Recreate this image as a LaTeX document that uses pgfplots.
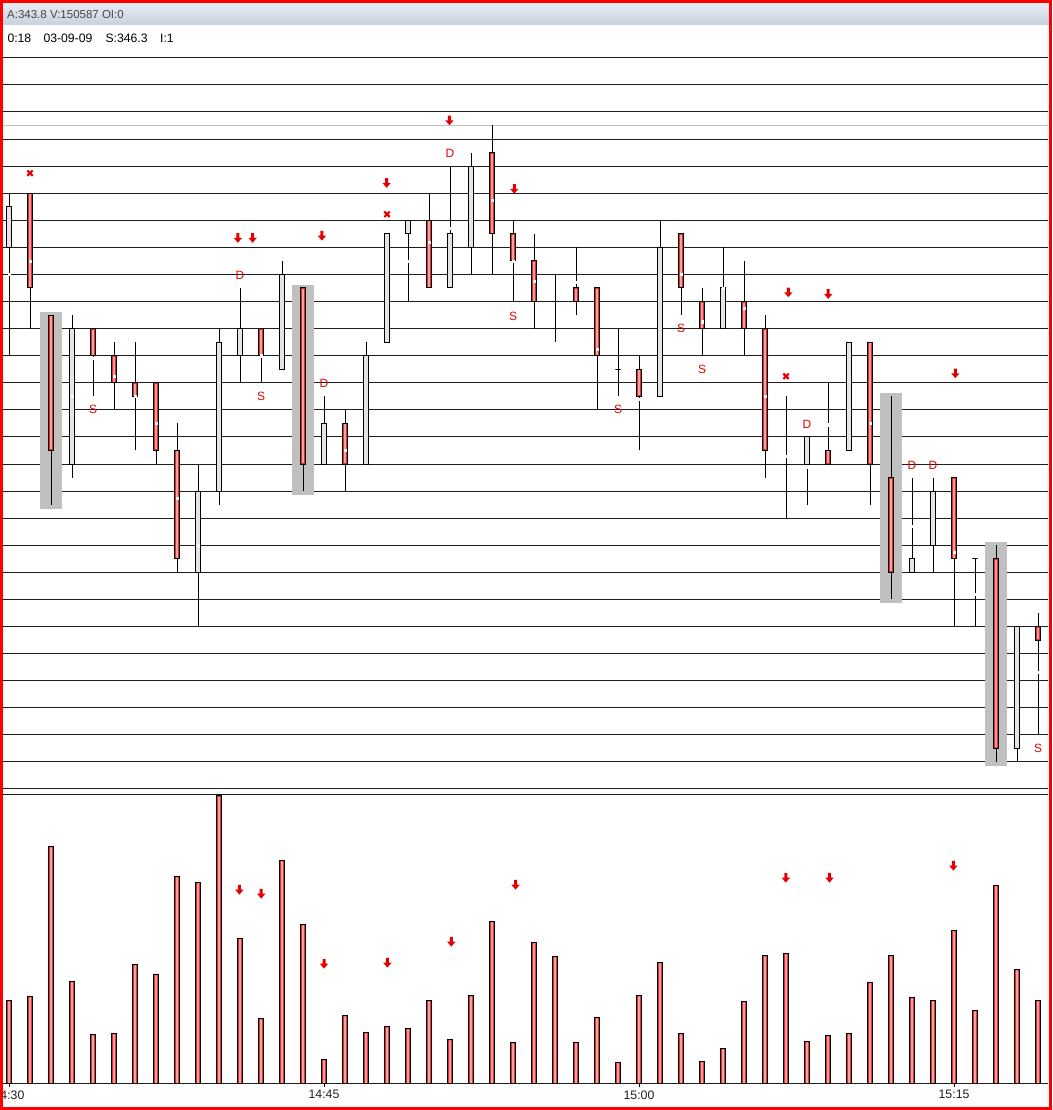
\documentclass[border=0pt]{standalone}
\usepackage{fontspec}
\setmainfont{Liberation Sans}
\usepackage{pgfplots}
\usepackage{pgfplotstable}
\pgfplotsset{compat=1.18}

\definecolor{bodyred}{RGB}{222,44,44}
\definecolor{bodypink}{RGB}{246,160,160}
\definecolor{bodywhite}{RGB}{228,228,228}
\definecolor{hl}{RGB}{192,192,192}
\definecolor{gridc}{RGB}{30,30,30}
\definecolor{mk}{RGB}{228,0,0}
\definecolor{hdrtop}{RGB}{236,240,245}
\definecolor{hdrbot}{RGB}{198,209,221}
\definecolor{hdrtext}{RGB}{70,70,70}

\pgfdeclareplotmark{darrow}{%
  \pgfpathmoveto{\pgfpoint{-1.5pt}{5pt}}%
  \pgfpathlineto{\pgfpoint{1.5pt}{5pt}}%
  \pgfpathlineto{\pgfpoint{1.5pt}{0.3pt}}%
  \pgfpathlineto{\pgfpoint{4.2pt}{0.3pt}}%
  \pgfpathlineto{\pgfpoint{0pt}{-4.6pt}}%
  \pgfpathlineto{\pgfpoint{-4.2pt}{0.3pt}}%
  \pgfpathlineto{\pgfpoint{-1.5pt}{0.3pt}}%
  \pgfpathclose\pgfusepathqfill}

% i open high low close avg-dot  (price levels, 1 level = 0.2)
\pgfplotstableread{
i o h l c d
0 19 21 15 20.5 18
1 21 21 16 17.5 18.5
2 16.5 16.5 9.5 11.5 nan
3 11 16.5 10.5 16 13.5
4 16 16 13.5 15 14.9
5 15 15.5 13 14 14.25
6 14 15.5 11.5 13.5 13.5
7 14 14 11 11.5 12.5
8 11.5 12.5 7 7.5 9.75
9 7 11 5 10 8
10 10 16 9.5 15.5 nan
11 15 17.5 14 16 nan
12 16 16 14 15 15
13 14.5 18.5 14.5 18 nan
14 17.5 17.5 10 11 nan
15 11 13.5 11 12.5 nan
16 12.5 13 10 11 11.5
17 11 15.5 11 15 nan
18 15.5 19.5 15.5 19.5 nan
19 19.5 20 17 20 18.5
20 20 21 17.5 17.5 19.2
21 17.5 22 17.5 19.5 19.7
22 19 22.5 18 22 nan
23 22.5 23.5 18 19.5 20.75
24 19.5 20 17 18.5 18.5
25 18.5 19.5 16 17 17.75
26 17 18 15.5 17 nan
27 17.5 19 16.5 17 17.7
28 17.5 17.5 13 15 15.25
29 14.5 16 13.5 14.5 nan
30 14.5 15 11.5 13.5 13.4
31 13.5 20 13.5 19 nan
32 19.5 19.5 16.5 17.5 18
33 17 17.5 15 16 16.25
34 16 19 16 17.5 17.5
35 17 18.5 15 16 16.75
36 16 16.5 10.5 11.5 13.5
37 11 13.5 9 11 11.3
38 11 12 9.5 12 10.9
39 11.5 14 11 11 12.45
40 11.5 15.5 11.5 15.5 nan
41 15.5 15.5 9.5 11 12.5
42 10.5 13.5 6 7 nan
43 7 10.5 7 7.5 8.7
44 8 10.5 7 10 nan
45 10.5 10.5 5 7.5 7.75
46 7.5 7.5 5 7.5 6.2
47 7.5 8 0 0.5 nan
48 0.5 5 0 5 nan
49 5 5.5 1 4.5 3.3
}\candles

\pgfplotstableread{
i v
0 82.7
1 86.7
2 236.7
3 101.7
4 48.7
5 49.7
6 118.7
7 108.7
8 206.7
9 200.7
10 287
11 144.7
12 64.7
13 222.7
14 158.7
15 23.7
16 67.7
17 50.7
18 56.7
19 54.7
20 82.7
21 43.7
22 87.7
23 161.7
24 40.7
25 140.7
26 126.7
27 40.7
28 65.7
29 20.7
30 87.7
31 120.7
32 49.7
33 21.7
34 34.7
35 81.7
36 127.7
37 129.7
38 41.7
39 47.7
40 49.7
41 100.7
42 127.7
43 85.7
44 82.7
45 152.7
46 72.7
47 197.7
48 113.7
49 82.7
}\vol

\begin{document}
\begin{tikzpicture}[x=1pt,y=1pt]
\fill[white] (0,0) rectangle (1052,1110);
\begin{scope}
\clip (0,0) rectangle (1052,1110);
\shade[top color=hdrtop, bottom color=hdrbot] (0,1085) rectangle (1052,1110);
\node[anchor=west, inner sep=0pt, font=\fontsize{11.5}{13}\selectfont, text=hdrtext] at (7,1095.5) {A:343.8 V:150587 OI:0};
\node[anchor=west, inner sep=0pt, font=\fontsize{12.2}{14}\selectfont] at (7.3,1071.7) {0:18};
\node[anchor=west, inner sep=0pt, font=\fontsize{12.2}{14}\selectfont] at (43.3,1071.7) {03-09-09};
\node[anchor=west, inner sep=0pt, font=\fontsize{12.2}{14}\selectfont] at (105.3,1071.7) {S:346.3};
\node[anchor=west, inner sep=0pt, font=\fontsize{12.2}{14}\selectfont] at (160,1071.7) {I:1};

% ---------- price panel ----------
\begin{axis}[
  at={(2pt,321pt)}, anchor=south west,
  scale only axis, width=1046pt, height=764.1pt,
  xmin=-0.3333, xmax=49.476, ymin=-1, ymax=27.215,
  hide axis,
]
\pgfplotsinvokeforeach{-1,0,...,26}{\addplot[gridc, line width=1pt] coordinates {(-1,#1) (50,#1)};}
\addplot[hl, line width=1pt] coordinates {(-1,23.5) (50,23.5)};
% highlight boxes
\addplot[fill=hl, draw=none] coordinates {(1.476,9.35) (2.524,9.35) (2.524,16.6) (1.476,16.6)} -- cycle;
\addplot[fill=hl, draw=none] coordinates {(13.48,9.85) (14.52,9.85) (14.52,17.6) (13.48,17.6)} -- cycle;
\addplot[fill=hl, draw=none] coordinates {(41.48,5.87) (42.52,5.87) (42.52,13.63) (41.48,13.63)} -- cycle;
\addplot[fill=hl, draw=none] coordinates {(46.48,-0.14) (47.52,-0.14) (47.52,8.12) (46.48,8.12)} -- cycle;
% candles
\pgfplotsforeachungrouped \k in {0,...,49}{%
  \pgfplotstablegetelem{\k}{o}\of\candles \let\vo\pgfplotsretval
  \pgfplotstablegetelem{\k}{h}\of\candles \let\vh\pgfplotsretval
  \pgfplotstablegetelem{\k}{l}\of\candles \let\vl\pgfplotsretval
  \pgfplotstablegetelem{\k}{c}\of\candles \let\vc\pgfplotsretval
  \pgfmathsetmacro\xa{\k-0.124}%
  \pgfmathsetmacro\xb{\k+0.124}%
  \pgfmathsetmacro\xc{\k-0.048}%
  \pgfmathsetmacro\xd{\k+0.048}%
  \pgfmathsetmacro\ya{max(\vo,\vc)-0.037}%
  \pgfmathsetmacro\yb{min(\vo,\vc)+0.037}%
  \edef\cmd{\noexpand\addplot[black, line width=1pt] coordinates {(\k,\vl) (\k,\vh)};}\cmd
  \pgfmathparse{\vo>\vc ? 1 : 0}%
  \ifdim\pgfmathresult pt>0.5pt
    \edef\cmd{\noexpand\addplot[draw=black, fill=bodyred, line width=1pt] coordinates {(\xa,\vo) (\xb,\vo) (\xb,\vc) (\xa,\vc)} -- cycle;
      \noexpand\addplot[draw=none, fill=bodypink] coordinates {(\xc,\ya) (\xd,\ya) (\xd,\yb) (\xc,\yb)} -- cycle;}\cmd
  \else
    \edef\cmd{\noexpand\addplot[draw=black, fill=bodywhite, line width=1pt] coordinates {(\xa,\vo) (\xb,\vo) (\xb,\vc) (\xa,\vc)} -- cycle;}\cmd
  \fi
}
\addplot[white, only marks, mark=square*, mark size=1.1pt, mark options={line width=0.5pt}] table[x=i, y=d] {\candles};
% signals
\addplot[only marks, mark=x, mark size=3.8pt, mark options={draw=mk, line width=2.2pt}] coordinates {(1,21.74) (18,20.22) (37,14.24)};
\addplot[only marks, mark=darrow, mark options={fill=mk}] coordinates {(10.90,19.34) (11.60,19.34) (14.90,19.42) (17.98,21.37) (20.97,23.68) (24.06,21.15) (37.11,17.33) (39.01,17.27) (45.06,14.34)};
\addplot[only marks, mark=text, text mark={D}, text mark as node=true, text mark style={font=\fontsize{12}{12}\selectfont, text=mk, inner sep=0pt}] coordinates {(11,17.95) (15,13.96) (21,22.48) (38,12.47) (43,10.94) (44,10.94)};
\addplot[only marks, mark=text, text mark={S}, text mark as node=true, text mark style={font=\fontsize{12}{12}\selectfont, text=mk, inner sep=0pt}] coordinates {(4,13.0) (12,13.49) (24,16.47) (29,13.02) (32,16.01) (33,14.48) (49,0.49)};
\end{axis}

% ---------- volume panel ----------
\begin{axis}[
  at={(2pt,27pt)}, anchor=south west,
  scale only axis, width=1046pt, height=288pt,
  xmin=-0.3333, xmax=49.476, ymin=0, ymax=288,
  axis line style={draw=none},
  xtick={0,15,30,45}, xticklabels={14:30,14:45,15:00,15:15},
  xtick pos=bottom, tick align=outside, major tick length=4pt,
  xtick style={black, line width=1pt},
  ytick=\empty,
  xticklabel style={font=\fontsize{12.3}{14}\selectfont, text={rgb,255:red,30;green,30;blue,30}},
]
\addplot[gridc, line width=1pt] coordinates {(-1,288) (50,288)};
\addplot[gridc, line width=1pt] coordinates {(-1,0) (50,0)};
\addplot[ybar, bar width=5.2pt, bar shift=0pt, fill=bodyred, draw=black, line width=1pt] table[x=i, y=v] {\vol};
\addplot[ybar, bar width=2pt, bar shift=0pt, fill=bodypink, draw=none] table[x=i, y expr=\thisrow{v}-1.2] {\vol};
\addplot[only marks, mark=darrow, mark options={fill=mk}] coordinates {(10.97,193) (12.01,189) (15,119) (18.02,120) (21.06,141) (24.12,198) (36.99,205) (39.07,205) (44.97,217)};
\end{axis}
\end{scope}
\draw[red, line width=2.6pt] (1.3,1.3) rectangle (1050.7,1108.7);
\pgfresetboundingbox
\useasboundingbox (0,0) rectangle (1052,1110);
\end{tikzpicture}
\end{document}
